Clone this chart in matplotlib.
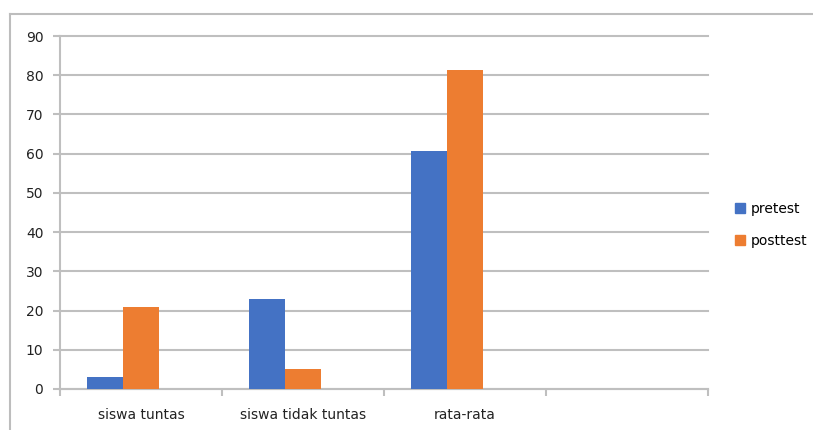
import matplotlib
matplotlib.use("Agg")
import matplotlib.pyplot as plt
from matplotlib.lines import Line2D
from matplotlib.patches import Patch
import numpy as np

categories = ["siswa tuntas", "siswa tidak tuntas", "rata-rata", ""]
pretest = [3, 23, 60.6, None]
posttest = [21, 5, 81.3, None]
yticks = [0, 10, 20, 30, 40, 50, 60, 70, 80, 90]

W, H = 813, 430
FS = 10
fig = plt.figure(figsize=(W / 100, H / 100), dpi=100)
fig.patch.set_facecolor("white")

# outer frame
fig.add_artist(Line2D([10 / W, 10 / W], [0, 1 - 14 / H], transform=fig.transFigure, color="#bdbdbd", lw=1.5))
fig.add_artist(Line2D([10 / W, 1], [1 - 14 / H, 1 - 14 / H], transform=fig.transFigure, color="#bdbdbd", lw=1.5))

ax = fig.add_axes([60 / W, (H - 389) / H, (708 - 60) / W, (389 - 36) / H])
x = np.arange(len(categories))
bw = 0.222
blue = "#4472C4"
orange = "#ED7D31"
for i in range(len(categories)):
    if pretest[i] is not None:
        ax.bar(x[i] - bw, pretest[i], width=bw, color=blue, zorder=3)
    if posttest[i] is not None:
        ax.bar(x[i], posttest[i], width=bw, color=orange, zorder=3)

ax.set_xlim(-0.5, len(categories) - 0.5)
ax.set_ylim(0, 90)
ax.set_yticks(yticks)
ax.set_yticklabels([str(v) for v in yticks], fontsize=FS, color="#222222")
ax.yaxis.grid(True, color="#bfbfbf", lw=1.5, zorder=0)
for gl in ax.get_ygridlines():
    gl.set_clip_on(False)
ax.set_axisbelow(True)

ax.set_xticks(np.arange(len(categories) + 1) - 0.5)
ax.set_xticklabels([])
ax.set_xticks(x, minor=True)
ax.set_xticklabels(categories, minor=True, fontsize=FS, color="#222222")
ax.tick_params(axis="x", which="minor", length=0, pad=14)
ax.tick_params(axis="x", which="major", length=5, color="#bfbfbf", width=1.5)
ax.tick_params(axis="y", length=5, color="#bfbfbf", width=1.5, pad=7)

for s in ["top", "right"]:
    ax.spines[s].set_visible(False)
ax.spines["left"].set_color("#bfbfbf")
ax.spines["left"].set_linewidth(1.5)
ax.spines["bottom"].set_color("#bfbfbf")
ax.spines["bottom"].set_linewidth(1.5)

handles = [Patch(color=blue, label="pretest"), Patch(color=orange, label="posttest")]
fig.legend(handles=handles, loc="center left", bbox_to_anchor=(722 / W, 1 - 225 / H),
           frameon=False, fontsize=FS, handlelength=0.75, handleheight=0.75,
           labelspacing=1.3, handletextpad=0.45)

fig.savefig("out.png", dpi=100)
